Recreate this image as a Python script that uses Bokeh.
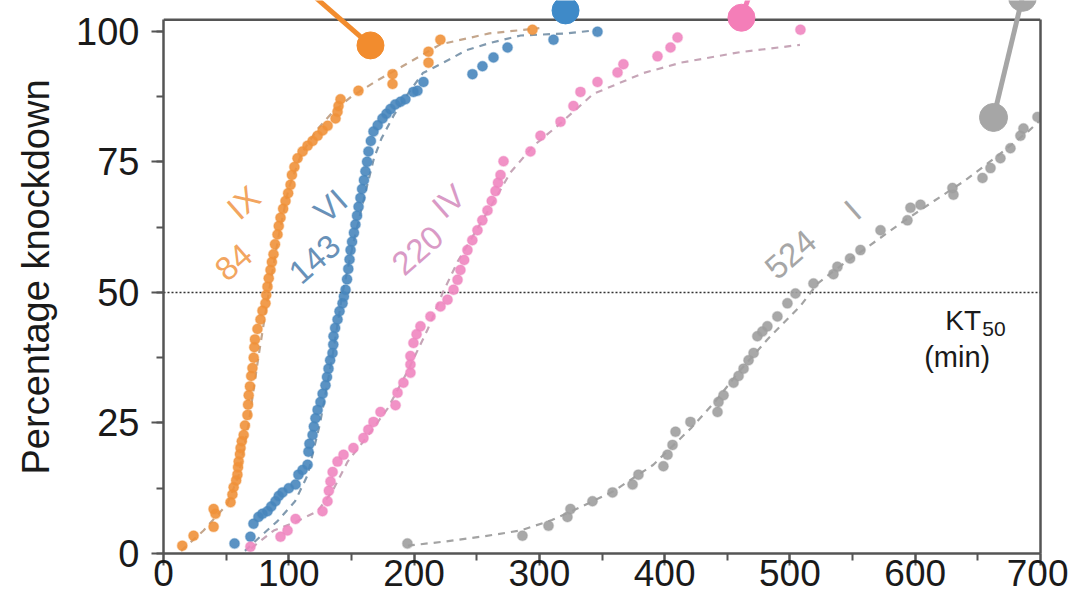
from bokeh.plotting import figure
from bokeh.models import Range1d, Span, LinearAxis, SingleIntervalTicker, FixedTicker
from bokeh.embed import file_html
from bokeh.resources import INLINE
from bokeh.core.properties import value

# ---------------- data ----------------
series_names = ["IX", "VI", "IV", "I"]
kt50_values = ["84", "143", "220", "524"]

ix_x = [15, 24, 40, 41.5, 40, 53.5, 55, 56, 58, 59, 59.5, 60, 61, 61.5, 62.5, 64, 65, 67, 67.5, 68,
        69, 70, 71, 72, 72.5, 73, 75, 77.4, 79, 81.4, 82, 83, 84, 85.4, 86.5, 87.8, 89, 91, 92, 93.4,
        95.5, 97.4, 99.5, 101.4, 102.5, 104.5, 107, 111, 115, 119, 123, 127, 131, 137.3, 138.9,
        139.7, 141.3, 155.6, 182.8, 182.8, 211.5, 211.5, 221, 294.5]
ix_y = [1.5, 3.4, 5.1, 7.6, 8.5, 9.8, 11.3, 12.7, 14, 15.1, 16.5, 17.6, 19, 20.2, 21.5, 22.7, 24.5,
        26.5, 28.5, 30.3, 32, 34, 35.5, 37.5, 39.5, 41, 43, 44.8, 46.5, 47.9, 49.5, 51.1, 52.7, 54.3,
        55.8, 57.3, 59.2, 61.1, 62.7, 64.3, 66, 67.5, 69, 70.6, 72.5, 74, 75.7, 77, 78.1, 79, 80, 81,
        81.9, 83.3, 84.6, 85.7, 87, 88.6, 89.9, 91.8, 94, 96.1, 98.4, 100.3]

vi_x = [56.7, 69.4, 71.8, 75.8, 79, 83, 86, 89.4, 92, 95, 100, 105.4, 107.7, 111, 115, 115.7, 116.5,
        119, 120, 121.3, 123, 125.3, 127, 129.3, 130.5, 131.7, 133, 134.9, 135.5, 135.7, 137, 138.9,
        140.5, 142.9, 144, 145.3, 146.5, 147.5, 148.5, 149.3, 150.5, 152, 153.2, 154.5, 155.7, 157.2,
        158.5, 160, 161.2, 162.5, 163.6, 165.5, 167.6, 171, 174.8, 178, 181.2, 185, 189.2, 193.1,
        199.5, 202.7, 207.5, 246.6, 254.6, 263.4, 274.6, 311.3, 346.4]
vi_y = [1.9, 3.2, 5.7, 7, 7.6, 8.1, 9, 10, 11, 11.7, 12.5, 13.2, 15.1, 16, 17, 19.5, 21, 22.7, 24.3,
        25.9, 27.5, 29, 30.6, 32.2, 33.8, 35.4, 37, 38.4, 40, 41.6, 43.2, 44.8, 46.4, 47.9, 49.2, 50.5,
        52.5, 54.5, 56.3, 58.1, 59.7, 61.4, 63, 64.7, 66.4, 68.1, 69.8, 71.5, 73.2, 75, 77, 79, 80.8,
        82, 83.3, 84.2, 85.1, 86, 86.5, 87, 88.4, 88.6, 90.3, 91.8, 93.3, 95, 96.9, 98.4, 99.9]

iv_x = [69.4, 93.4, 99, 105.4, 126.9, 130.9, 132, 133.3, 135, 138.9, 143.7, 151.6, 159.6, 163.5, 167.6,
        173.2, 185.2, 186.8, 191.5, 197.1, 197.1, 197.1, 199.5, 202, 205.1, 213.1, 221.1, 226.7, 231.5,
        234.7, 237, 240, 242.6, 246.5, 250.6, 254.5, 258.6, 262, 265, 267, 269, 271.4, 292.9, 300.9,
        316.9, 327.2, 332.8, 346.4, 362.4, 367.1, 394.3, 404.7, 410.3, 508.4]
iv_y = [1.3, 3.2, 4.4, 6.6, 8.1, 10, 12, 13.8, 15.6, 17.6, 18.9, 20.2, 22.1, 23.7, 25.2, 27.1, 28.4,
        30.8, 32.7, 34.6, 36.2, 37.8, 40.3, 42, 43.5, 45.4, 47.3, 48.6, 50.5, 52.4, 54.3, 56.2, 58.1,
        60, 61.9, 63.8, 65.7, 67.5, 69.4, 71, 72.5, 75.1, 77, 80, 82.7, 85.7, 88.4, 90.3, 92.1, 93.7,
        95.2, 96.9, 98.8, 100.3]

i_x = [194.7, 286.5, 307.3, 322.4, 324.8, 342.4, 358.4, 374.4, 379.1, 399, 402.3, 406.3, 408.7, 420.6,
       442.2, 443, 447, 455, 459, 463, 467, 471, 474, 478, 482, 490, 498, 504.4, 518.8, 534.7, 537.9,
       548, 556.3, 572.3, 593.8, 596.2, 604.2, 630.5, 629.7, 653.7, 660.1, 668, 676, 684, 686.4, 697.6]
i_y = [1.9, 3.4, 5.3, 7, 8.5, 10, 11.7, 13.2, 15.1, 16.7, 18.9, 20.8, 23.3, 25.2, 27.1, 29, 30.3,
       32.7, 34, 35.4, 37, 38.4, 41.6, 42.5, 43.5, 45.4, 47.9, 49.8, 51.7, 53.5, 54.9, 56.5, 58.1,
       61.9, 63.8, 66.2, 66.8, 68.7, 70, 71.9, 73.8, 75.7, 77.6, 80, 81.4, 83.6]

# fitted curves
ix_fit_x = [14, 32, 51, 60, 68, 76, 84, 92, 100, 110, 122, 135, 150, 170, 190, 221, 260, 300]
ix_fit_y = [0.5, 4.4, 9.5, 15, 25, 38, 50, 61, 70, 76.5, 81, 84.5, 87.5, 90.5, 93.2, 97.5, 99.6, 100.6]
vi_fit_x = [65, 77, 91, 105, 115, 125, 135, 143, 152, 160, 168, 174, 184, 195, 207, 221, 242, 261, 285, 322, 345]
vi_fit_y = [0.5, 3.2, 6.2, 10, 15, 25, 38, 50, 60, 68, 75.7, 79.5, 84, 88, 92, 93.7, 96.4, 97.8, 99.2, 99.6, 100.2]
iv_fit_x = [70, 88, 105, 123, 135, 147, 163, 179, 195, 211, 223, 235, 250, 265, 277, 295, 315, 343, 383, 413, 460, 508]
iv_fit_y = [1, 4.4, 6, 8.1, 12, 17.6, 22.5, 27.8, 35, 43, 50, 56, 62, 68, 73, 78, 82, 88, 92, 94, 96, 97.4]
i_fit_x = [195, 225, 253, 285, 310, 333, 359, 391, 421, 440, 460, 482, 508, 522, 540, 562, 590, 615, 639, 665, 690, 700]
i_fit_y = [1.5, 2.3, 3.2, 4.4, 6.4, 8.9, 11.9, 17, 24, 29, 35, 41, 47.3, 51.7, 55, 58.7, 63.5, 67.5, 71.3, 76, 80.8, 83]

# cropped key markers at the top of the figure
key_ix_x = [111.7, 165.2]
key_ix_y = [108.5, 97.3]
key_vi_x = [320.9]
key_vi_y = [104.0]
key_iv_x = [470.0, 461.3]
key_iv_y = [108.5, 102.6]
key_i_x = [685.6, 662.5]
key_i_y = [106.5, 83.5]

# ---------------- styling / layout ----------------
FONT = "Liberation Sans"
AX = "#555555"
dot_colors = ["#F0913A", "#4886BD", "#EF86C0", "#9E9E9E"]
fit_colors = ["#C4A68C", "#819AAF", "#C6A5B7", "#A3A3A3"]
lab_colors = ["#F2A560", "#6891B8", "#D99AC6", "#A6A6A6"]
key_colors = ["#F28C2E", "#3F8AC8", "#F47EB8", "#A6A6A6"]

p = figure(width=1068, height=600, output_backend="svg", toolbar_location=None,
           x_range=Range1d(0, 700), y_range=Range1d(0, 105.9),
           min_border_left=163, min_border_right=28, min_border_top=0, min_border_bottom=47)
p.outline_line_color = None
p.grid.visible = False
p.background_fill_color = "white"
p.border_fill_color = "white"

p.xaxis.ticker = SingleIntervalTicker(interval=100, num_minor_ticks=2)
p.yaxis.ticker = SingleIntervalTicker(interval=25, num_minor_ticks=2)
p.yaxis.bounds = (0, 102.2)
p.yaxis.axis_label = "Percentage knockdown"
for ax in (p.xaxis, p.yaxis):
    ax.axis_line_color = AX
    ax.axis_line_width = 2.5
    ax.major_tick_line_color = AX
    ax.major_tick_line_width = 2
    ax.major_tick_out = 12
    ax.major_tick_in = 0
    ax.minor_tick_line_color = AX
    ax.minor_tick_line_width = 2
    ax.minor_tick_out = 7
    ax.minor_tick_in = 0
    ax.major_label_text_font = FONT
    ax.major_label_text_color = "#1a1a1a"
p.xaxis.major_label_text_font_size = "37px"
p.yaxis.major_label_text_font_size = "38px"
p.xaxis.major_label_standoff = -6
p.yaxis.major_label_standoff = 12
p.yaxis.axis_label_text_font = FONT
p.yaxis.axis_label_text_font_size = "38px"
p.yaxis.axis_label_text_font_style = "normal"
p.yaxis.axis_label_text_color = "#1a1a1a"
p.yaxis.axis_label_standoff = 16

right = LinearAxis(ticker=FixedTicker(ticks=[]), bounds=(0, 102.2), axis_line_color=AX,
                   axis_line_width=2.5)
p.add_layout(right, "right")
p.add_layout(Span(location=102.2, dimension="width", line_color=AX, line_width=2.5, level="underlay"))
p.add_layout(Span(location=50, dimension="width", line_color="#333333", line_width=1.5,
                  line_dash="2 2", level="underlay"))

fits = [(ix_fit_x, ix_fit_y), (vi_fit_x, vi_fit_y), (iv_fit_x, iv_fit_y), (i_fit_x, i_fit_y)]
pts = [(ix_x, ix_y), (vi_x, vi_y), (iv_x, iv_y), (i_x, i_y)]
for (fx, fy), c in zip(fits, fit_colors):
    p.line(fx, fy, line_color=c, line_width=2.2, line_dash="7 6")
for (xs, ys), c in zip(pts, dot_colors):
    p.scatter(xs, ys, size=10, fill_color=c, fill_alpha=0.9, line_color=c, line_alpha=0.35, line_width=1.5)

# key markers (cropped)
p.line(key_ix_x, key_ix_y, line_color=key_colors[0], line_width=5)
p.scatter(key_ix_x[1:], key_ix_y[1:], size=27, color=key_colors[0])
p.scatter(key_vi_x, key_vi_y, size=27, color=key_colors[1])
p.line(key_iv_x, key_iv_y, line_color=key_colors[2], line_width=5)
p.scatter(key_iv_x[1:], key_iv_y[1:], size=27, color=key_colors[2])
p.line(key_i_x, key_i_y, line_color=key_colors[3], line_width=5)
p.scatter(key_i_x, key_i_y, size=28, color=key_colors[3])

# rotated series labels
name_pos = [(63.9, 67.2), (133.3, 66.6), (227.5, 67.5), (550.0, 65.8)]
kt_pos = [(55.9, 55.8), (120.5, 56.4), (202.7, 58.1), (500.4, 57.3)]
ANG = 0.72
for i in range(4):
    p.text([name_pos[i][0]], [name_pos[i][1]], text=[series_names[i]], angle=ANG,
           text_align="center", text_baseline="middle", text_color=lab_colors[i],
           text_font=value(FONT), text_font_size="33px")
    p.text([kt_pos[i][0]], [kt_pos[i][1]], text=[kt50_values[i]], angle=ANG,
           text_align="center", text_baseline="middle", text_color=lab_colors[i],
           text_font=value(FONT), text_font_size="33px")

p.text([652.5], [44.6], text=["KT"], text_align="right", text_baseline="middle",
       text_font=value(FONT), text_font_size="28px", text_color="#1a1a1a")
p.text([653.5], [43.0], text=["50"], text_align="left", text_baseline="middle",
       text_font=value(FONT), text_font_size="21px", text_color="#1a1a1a")
p.text([633.5], [37.6], text=["(min)"], text_align="center", text_baseline="middle",
       text_font=value(FONT), text_font_size="29px", text_color="#1a1a1a")

open("out.html", "w").write(file_html(p, INLINE))
